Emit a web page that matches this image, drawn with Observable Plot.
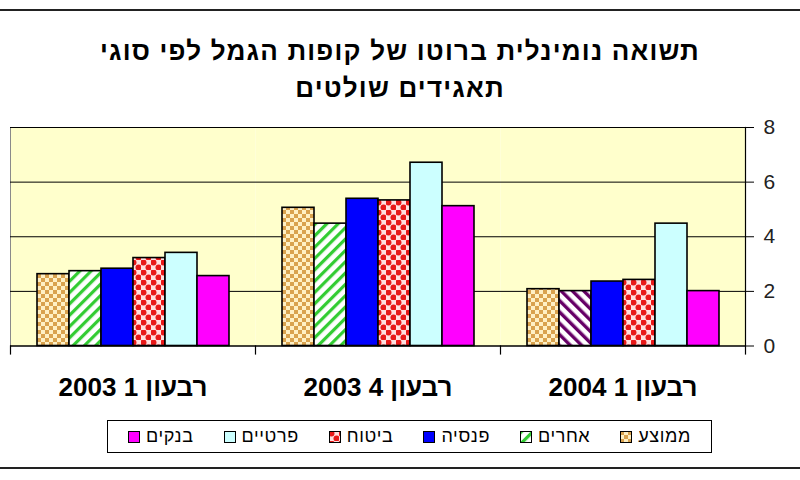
<!DOCTYPE html>
<html><head><meta charset="utf-8">
<script src="https://cdn.jsdelivr.net/npm/d3@7"></script>
<script src="https://cdn.jsdelivr.net/npm/@observablehq/plot@0.6"></script>
<style>
body{margin:0;width:800px;height:480px;position:relative;background:#fff;font-family:"Liberation Sans",Arial,sans-serif;overflow:hidden}
#title{position:absolute;left:0;top:33px;width:800px;text-align:center;font-weight:bold;font-size:26px;letter-spacing:1.2px;line-height:37px;direction:rtl;color:#000}
#chart{position:absolute;left:0;top:110px}
#legend{position:absolute;left:107px;top:420px;width:603px;height:31px;border:1px solid #000;display:flex;direction:rtl;justify-content:center;align-items:center;gap:30px;font-size:18px;letter-spacing:0.6px;color:#000}
#legend .item{display:flex;align-items:center;gap:6px}
.hr{position:absolute;left:0;width:800px;height:2px;background:#222}
#defs{position:absolute;width:0;height:0}
</style></head>
<body>
<svg id="defs" width="0" height="0">
  <defs>
    <pattern id="pTan" width="8" height="8" patternUnits="userSpaceOnUse">
      <rect width="8" height="8" fill="#FFF0C4"/>
      <rect width="4" height="4" fill="#D9A24E"/>
      <rect x="4" y="4" width="4" height="4" fill="#D9A24E"/>
    </pattern>
    <pattern id="pGreen" width="8" height="8" patternUnits="userSpaceOnUse" patternTransform="rotate(45)">
      <rect width="8" height="8" fill="#FFFFFF"/>
      <rect width="3.2" height="8" fill="#33CC33"/>
    </pattern>
    <pattern id="pPurple" width="8" height="8" patternUnits="userSpaceOnUse" patternTransform="rotate(-45)">
      <rect width="8" height="8" fill="#FFFFFF"/>
      <rect width="3.4" height="8" fill="#660066"/>
    </pattern>
    <pattern id="pRed" width="10" height="10" patternUnits="userSpaceOnUse">
      <rect width="10" height="10" fill="#FFE0E0"/>
      <circle cx="2.5" cy="2.5" r="3" fill="#E81818"/>
      <circle cx="7.5" cy="7.5" r="3" fill="#E81818"/>
    </pattern>
  </defs>
</svg>
<div class="hr" style="top:9px"></div>
<div id="title">תשואה נומינלית ברוטו של קופות הגמל לפי סוגי<br>תאגידים שולטים</div>
<div id="chart"></div>
<div id="legend"></div>
<div class="hr" style="top:467px"></div>
<script>
// categories (x groups, left to right)
const quarters = ["רבעון 1 2003", "רבעון 4 2003", "רבעון 1 2004"];
// series, in bar order within a group
const series = ["ממוצע", "אחרים", "פנסיה", "ביטוח", "פרטיים", "בנקים"];
// values per quarter, in series order
const q1_2003 = [2.63, 2.74, 2.83, 3.22, 3.41, 2.56];
const q4_2003 = [5.06, 4.48, 5.39, 5.33, 6.71, 5.12];
const q1_2004 = [2.08, 2.01, 2.36, 2.42, 4.48, 2.01];
const yTicks = [0, 2, 4, 6, 8];

// styles
const seriesFill = ["url(#pTan)", "url(#pGreen)", "#0000FF", "url(#pRed)", "#CCFFFF", "#FF00FF"];
const overrideFill = {"רבעון 1 2004|אחרים": "url(#pPurple)"};

const valuesByQuarter = [q1_2003, q4_2003, q1_2004];
const rows = quarters.flatMap((q, i) => valuesByQuarter[i].map((v, j) => ({
  quarter: q, series: series[j], value: v,
  fill: overrideFill[q + "|" + series[j]] || seriesFill[j]
})));

const chart = Plot.plot({
  width: 800, height: 300,
  marginLeft: 9, marginRight: 54, marginTop: 17, marginBottom: 64.5,
  style: {fontFamily: "'Liberation Sans', Arial, sans-serif", background: "transparent", overflow: "visible", color: "#000"},
  fx: {domain: quarters, padding: 0, label: null},
  x: {domain: series, paddingInner: 0, paddingOuter: 0.72, axis: null},
  y: {domain: [0, 8], axis: null},
  color: {type: "identity"},
  marks: [
    Plot.frame({fill: "#FFFFCC", stroke: "none"}),
    Plot.frame({anchor: "top", stroke: "#8a8a8a"}),
    Plot.frame({anchor: "left", facetAnchor: "left", stroke: "#8a8a8a"}),
    Plot.ruleY([2, 4, 6, 8], {stroke: "#000", strokeWidth: 1}),
    Plot.barY(rows, {fx: "quarter", x: "series", y: "value", fill: "fill", stroke: "#000", strokeWidth: 1.6}),
    Plot.ruleY([0], {stroke: "#000", strokeWidth: 1.5}),
    Plot.frame({anchor: "left", insetTop: 218.5, insetBottom: -8, stroke: "#000", strokeWidth: 1.2}),
    Plot.frame({anchor: "right", facetAnchor: "right", insetBottom: -8, stroke: "#000", strokeWidth: 1.2}),
    Plot.axisY(yTicks, {anchor: "right", label: null, tickSize: 8, tickPadding: 10, fontSize: 21, stroke: "#000", fill: "#222"}),
    Plot.axisFx({anchor: "bottom", tickSize: 0, tickPadding: 32, fontSize: 26, fontWeight: "bold", label: null, style: "direction: rtl; letter-spacing: 0.8px"})
  ]
});
document.getElementById("chart").append(chart);

// legend
const legend = document.getElementById("legend");
series.forEach((s, j) => {
  const item = document.createElement("div");
  item.className = "item";
  item.innerHTML = `<span>${s}</span><svg width="12" height="12"><rect x="0.5" y="0.5" width="11" height="11" fill="${seriesFill[j]}" stroke="#000"/></svg>`;
  legend.append(item);
});
</script>
</body></html>
